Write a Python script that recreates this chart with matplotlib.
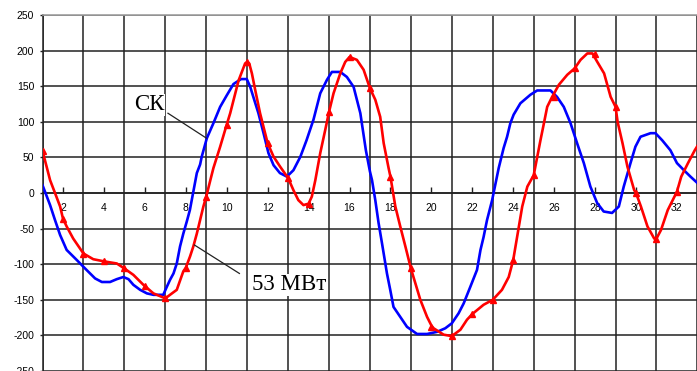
import numpy as np
import matplotlib.pyplot as plt

plt.rcParams['axes.unicode_minus'] = False

# СК curve
blue_x = [1.0, 1.37, 1.61, 1.86, 2.18, 2.67, 3.08, 3.57, 3.9, 4.3, 4.63, 4.95, 5.2, 5.44, 5.77,
          6.1, 6.42, 6.9, 7.07, 7.23, 7.4, 7.56, 7.72, 7.88, 8.05, 8.2, 8.37, 8.54, 8.7, 8.78,
          9.03, 9.35, 9.68, 10.0, 10.33, 10.7, 10.98, 11.15, 11.3, 11.55, 11.8, 12.04, 12.29,
          12.6, 12.94, 13.26, 13.6, 13.9, 14.24, 14.57, 14.9, 15.14, 15.55, 15.87, 16.2, 16.53,
          16.8, 17.0, 17.1, 17.26, 17.42, 17.59, 17.83, 17.99, 18.15, 18.48, 18.81, 19.3, 19.79,
          20.28, 20.68, 21.0, 21.33, 21.58, 21.9, 22.23, 22.4, 22.55, 22.72, 22.97, 23.04, 23.29,
          23.53, 23.7, 23.86, 24.02, 24.35, 24.84, 25.17, 25.82, 26.14, 26.47, 26.8, 27.12,
          27.45, 27.77, 28.1, 28.42, 28.83, 29.16, 29.4, 29.73, 29.97, 30.22, 30.71, 30.95,
          31.28, 31.68, 32.0, 32.34, 32.66, 33.0]
blue_y = [11, -17, -38, -59, -80, -94, -106, -120, -125, -125, -121, -118, -121, -129, -136,
          -141, -143, -143, -132, -122, -113, -99, -75, -57, -40, -24, 2, 28, 40, 51,
          77, 98, 121, 137, 153, 160, 160, 149, 135, 112, 84, 56, 39,
          28, 23, 32, 51, 74, 103, 140, 159, 170, 170, 163, 149, 112,
          60, 30, 18, -10, -42, -71, -113, -136, -160, -174, -188, -198, -198,
          -195, -190, -183, -169, -155, -132, -108, -80, -62, -38, -10, 0, 35,
          63, 79, 98, 110, 126, 138, 144, 144, 135, 121, 98, 70,
          42, 9, -14, -26, -28, -19, 9, 42, 65, 79, 84, 84,
          74, 60, 42, 32, 23, 14]

# 53 МВт curve
red_x = [1.0, 1.2, 1.37, 1.61, 1.86, 2.0, 2.18, 2.5, 3.0, 3.48, 4.0, 4.63, 5.0, 5.44, 5.93,
         6.42, 7.0, 7.23, 7.56, 7.88, 8.0, 8.21, 8.37, 8.54, 8.7, 8.86, 9.0, 9.2, 9.35, 9.68,
         10.0, 10.17, 10.33, 10.58, 10.74, 10.9, 11.0, 11.1, 11.23, 11.39, 11.63, 12.0, 12.29,
         12.61, 13.0, 13.26, 13.5, 13.75, 14.0, 14.16, 14.33, 14.57, 14.81, 15.0, 15.22, 15.55,
         15.79, 16.0, 16.36, 16.69, 17.0, 17.26, 17.5, 17.67, 17.91, 18.0, 18.24, 18.48, 18.73,
         19.0, 19.22, 19.46, 19.79, 20.0, 20.11, 20.6, 21.0, 21.42, 21.74, 22.0, 22.55, 23.0,
         23.45, 23.78, 24.0, 24.2, 24.44, 24.69, 25.0, 25.33, 25.5, 25.66, 25.9, 26.0, 26.23,
         26.64, 27.0, 27.29, 27.62, 27.87, 28.11, 28.44, 28.76, 29.0, 29.1, 29.34, 29.58,
         29.91, 30.0, 30.24, 30.56, 30.89, 31.0, 31.22, 31.55, 31.88, 32.0, 32.21, 32.54,
         32.87, 33.0]
red_y = [59, 37, 18, 0, -19, -36, -47, -64, -85, -93, -96, -99, -106, -115, -129,
         -141, -148, -143, -136, -110, -105, -89, -75, -57, -38, -19, -5, 18, 35, 65,
         96, 112, 130, 158, 170, 182, 184, 182, 168, 145, 112, 70, 51,
         37, 21, 4, -10, -17, -15, -5, 18, 56, 88, 114, 140, 168,
         184, 191, 187, 173, 147, 131, 107, 70, 35, 23, -19, -47, -75,
         -106, -127, -150, -174, -186, -190, -199, -201, -192, -178, -170, -157, -150,
         -136, -118, -94, -60, -19, 9, 25, 74, 98, 121, 135, 140, 152,
         166, 175, 187, 196, 196, 184, 168, 135, 121, 100, 70, 37,
         4, 0, -19, -47, -64, -64, -52, -24, -5, 2, 23, 42,
         60, 66]

# triangle markers at each integer step
mark_x = list(range(1, 33))
mark_y = [59, -36, -85, -96, -106, -131, -148, -105, -5, 96, 184, 70, 21, -15, 114, 191,
          147, 23, -106, -188, -201, -170, -150, -94, 25, 135, 175, 195, 121, 0, -64, 2]

fig = plt.figure(figsize=(6.97, 3.71), dpi=100)
ax = fig.add_axes([0.061, 0.0, 0.9396, 0.9596])

ax.set_xlim(1, 33)
ax.set_ylim(-250, 250)

# grid: vertical at odd steps, horizontal every 50
ax.set_xticks(np.arange(2, 33, 2))
ax.set_xticks(np.arange(1, 34, 2), minor=True)
ax.set_yticks(np.arange(-250, 251, 50))
ax.grid(which='minor', axis='x', color='#222222', lw=1.1)
ax.grid(which='major', axis='y', color='#222222', lw=1.1)
ax.set_axisbelow(True)

ax.spines['bottom'].set_position(('data', 0))
ax.spines['bottom'].set_color('#222222')
ax.spines['bottom'].set_linewidth(1.1)
ax.spines['left'].set_color('#222222')
ax.spines['left'].set_linewidth(1.1)
ax.spines['top'].set_color('#a0a0a0')
ax.spines['top'].set_linewidth(1.2)
ax.spines['right'].set_visible(False)

ax.tick_params(axis='x', which='major', direction='in', length=4, width=1, color='#222222',
               pad=7, labelsize=7.5)
ax.tick_params(axis='x', which='minor', length=0)
ax.tick_params(axis='y', direction='out', length=2, width=1, color='#222222',
               pad=4, labelsize=7.5)
for lbl in ax.get_xticklabels() + ax.get_yticklabels():
    lbl.set_family('Liberation Sans')

ax.plot(blue_x, blue_y, color='#0000ff', lw=1.9, zorder=3)
ax.plot(red_x, red_y, color='#ff0000', lw=1.9, zorder=4)
ax.plot(mark_x, mark_y, ls='none', marker='^', ms=4.5, color='#ff0000', zorder=5)

# annotations
ax.plot([7.13, 9.01], [112, 77], color='#222222', lw=0.9, zorder=6)
ax.plot([8.42, 10.62], [-73, -113], color='#222222', lw=0.9, zorder=6)
ax.text(6.2, 124, 'СК', family='Liberation Serif', fontsize=16.5, ha='center', va='center',
        zorder=7, bbox=dict(facecolor='white', edgecolor='none', pad=0.5))
ax.text(13.05, -129, '53 МВт', family='Liberation Serif', fontsize=16.5, ha='center',
        va='center', zorder=7, bbox=dict(facecolor='white', edgecolor='none', pad=0.5))

fig.savefig('out.png', dpi=100)
